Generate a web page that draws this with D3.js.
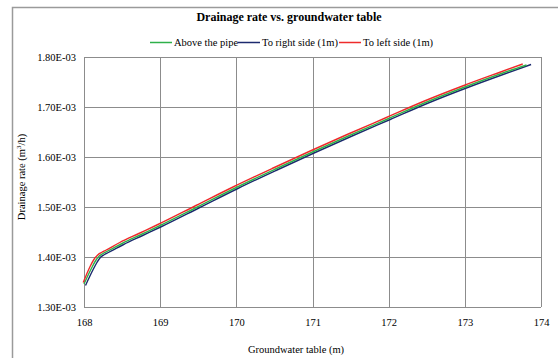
<!DOCTYPE html>
<html>
<head>
<meta charset="utf-8">
<script src="https://cdn.jsdelivr.net/npm/d3@7"></script>
<style>
  html, body { margin: 0; padding: 0; background: #fff; }
  svg { display: block; }
  text { font-family: "Liberation Serif", "Times New Roman", serif; fill: #000; }
</style>
</head>
<body>
<svg id="chart" width="558" height="358"></svg>
<script>
// Groundwater table (m) and drainage rate (m3/h) for each observation point
const aboveX = [168.00, 168.10, 168.15, 168.20, 168.25, 168.30, 168.50, 168.75, 169.00, 169.50, 170.00, 170.50, 171.00, 171.50, 172.00, 172.50, 173.00, 173.50, 173.81];
const aboveY = [1.346e-3, 1.378e-3, 1.392e-3, 1.402e-3, 1.407e-3, 1.411e-3, 1.427e-3, 1.445e-3, 1.463e-3, 1.501e-3, 1.539e-3, 1.575e-3, 1.610e-3, 1.644e-3, 1.677e-3, 1.710e-3, 1.740e-3, 1.768e-3, 1.784e-3];

const rightX = [168.02, 168.12, 168.17, 168.22, 168.27, 168.32, 168.52, 168.77, 169.02, 169.52, 170.02, 170.52, 171.02, 171.52, 172.02, 172.52, 173.02, 173.52, 173.87];
const rightY = [1.343e-3, 1.375e-3, 1.389e-3, 1.400e-3, 1.405e-3, 1.409e-3, 1.425e-3, 1.443e-3, 1.461e-3, 1.499e-3, 1.537e-3, 1.573e-3, 1.608e-3, 1.642e-3, 1.675e-3, 1.708e-3, 1.738e-3, 1.766e-3, 1.785e-3];

const leftX = [167.99, 168.08, 168.13, 168.18, 168.23, 168.28, 168.47, 168.72, 168.97, 169.47, 169.97, 170.47, 170.97, 171.47, 171.97, 172.47, 172.97, 173.47, 173.76];
const leftY = [1.349e-3, 1.381e-3, 1.395e-3, 1.404e-3, 1.409e-3, 1.413e-3, 1.429e-3, 1.447e-3, 1.465e-3, 1.503e-3, 1.541e-3, 1.577e-3, 1.612e-3, 1.646e-3, 1.679e-3, 1.712e-3, 1.742e-3, 1.770e-3, 1.786e-3];

const seriesNames = ["Above the pipe", "To right side (1m)", "To left side (1m)"];
const seriesColors = ["#2fb04a", "#1c2a6e", "#ee2b2b"];

const xTicks = [168, 169, 170, 171, 172, 173, 174];
const yTicks = [1.30e-3, 1.40e-3, 1.50e-3, 1.60e-3, 1.70e-3, 1.80e-3];

const svg = d3.select("#chart");
const plot = { left: 84, top: 57, right: 541, bottom: 307 };

// outer chart frame
svg.append("rect")
  .attr("x", 12.5).attr("y", 7.5)
  .attr("width", 560).attr("height", 360)
  .attr("fill", "none").attr("stroke", "#9a9a9a").attr("stroke-width", 1.5);

const x = d3.scaleLinear().domain([168, 174]).range([plot.left, plot.right]);
const y = d3.scaleLinear().domain([1.30e-3, 1.80e-3]).range([plot.bottom, plot.top]);

// gridlines
const grid = svg.append("g").attr("stroke", "#8c8c8c").attr("stroke-width", 1);
grid.selectAll("line.v").data(xTicks).join("line")
  .attr("x1", d => Math.round(x(d)) + 0.5).attr("x2", d => Math.round(x(d)) + 0.5)
  .attr("y1", plot.top).attr("y2", plot.bottom);
grid.selectAll("line.h").data(yTicks).join("line")
  .attr("y1", d => Math.round(y(d)) + 0.5).attr("y2", d => Math.round(y(d)) + 0.5)
  .attr("x1", plot.left).attr("x2", plot.right);

// axes (labels only, gridlines form the frame)
const fmt = d => d.toExponential(2).toUpperCase().replace(/E([+-])(\d)$/, "E$10$2");
const yAxis = svg.append("g")
  .attr("transform", `translate(${plot.left},0)`)
  .call(d3.axisLeft(y).tickValues(yTicks).tickFormat(fmt).tickSize(0).tickPadding(8));
yAxis.select(".domain").remove();
yAxis.selectAll("text").style("font-size", "10.5px").style("font-family", "Liberation Serif, serif").attr("fill", "#000");

const xAxis = svg.append("g")
  .attr("transform", `translate(0,${plot.bottom})`)
  .call(d3.axisBottom(x).tickValues(xTicks).tickFormat(d3.format("d")).tickSize(0).tickPadding(12));
xAxis.select(".domain").remove();
xAxis.selectAll("text").style("font-size", "10.5px").style("font-family", "Liberation Serif, serif").attr("fill", "#000");

// series lines
const series = [
  { xs: aboveX, ys: aboveY },
  { xs: rightX, ys: rightY },
  { xs: leftX, ys: leftY }
];
const line = d3.line().x(d => x(d[0])).y(d => y(d[1])).curve(d3.curveMonotoneX);
const order = [1, 0, 2];
order.forEach(i => {
  const pts = series[i].xs.map((v, k) => [v, series[i].ys[k]]);
  svg.append("path")
    .datum(pts)
    .attr("d", line)
    .attr("fill", "none")
    .attr("stroke", seriesColors[i])
    .attr("stroke-width", 1.4);
});

// title
svg.append("text")
  .attr("x", 289).attr("y", 21)
  .attr("text-anchor", "middle")
  .style("font-size", "12px").style("font-weight", "bold")
  .text("Drainage rate vs. groundwater table");

// legend
const legendItems = [
  { x0: 150, tx: 174 },
  { x0: 238, tx: 262 },
  { x0: 339, tx: 363 }
];
legendItems.forEach((it, i) => {
  svg.append("line")
    .attr("x1", it.x0).attr("x2", it.x0 + 22)
    .attr("y1", 42.5).attr("y2", 42.5)
    .attr("stroke", seriesColors[i]).attr("stroke-width", 1.5);
  svg.append("text")
    .attr("x", it.tx).attr("y", 46)
    .style("font-size", "10.5px")
    .text(seriesNames[i]);
});

// axis titles
svg.append("text")
  .attr("x", 296).attr("y", 353)
  .attr("text-anchor", "middle")
  .style("font-size", "10.5px")
  .text("Groundwater table (m)");

const yt = svg.append("text")
  .attr("transform", "translate(25,177) rotate(-90)")
  .attr("text-anchor", "middle")
  .style("font-size", "10.5px");
yt.append("tspan").text("Drainage rate (m");
yt.append("tspan").attr("dy", -4).style("font-size", "7px").text("3");
yt.append("tspan").attr("dy", 4).text("/h)");
</script>
</body>
</html>
